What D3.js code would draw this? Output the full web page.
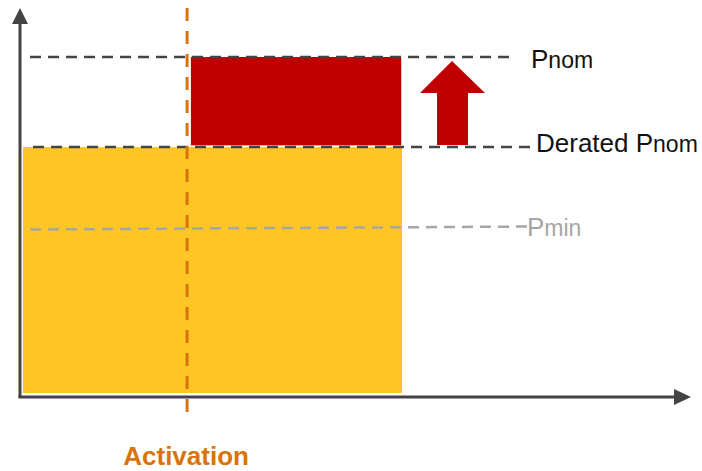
<!DOCTYPE html>
<html>
<head>
<meta charset="utf-8">
<script src="https://cdn.jsdelivr.net/npm/d3@7"></script>
<style>
  html, body { margin: 0; padding: 0; background: #fff; }
  svg { display: block; font-family: "Liberation Sans", Arial, sans-serif; }
</style>
</head>
<body>
<svg id="chart" width="702" height="471"></svg>
<script>
// Power levels (relative, Pnom = 100)
const levelNames = ["Pnom", "Derated Pnom", "Pmin"];
const levelValues = [100, 73.2, 49.1];
// Time markers (relative units)
const activationTime = 43.3;
const endTime = 100;
// Blocks: [start, end, bottom, top]
const blockNames = ["derated", "boost"];
const blockStart = [0, 44.3];
const blockEnd = [100, 99.8];
const blockBottom = [0, 73.7];
const blockTop = [73.2, 100];

const svg = d3.select("#chart");

const x = d3.scaleLinear().domain([0, 100]).range([23, 402]);
const y = d3.scaleLinear().domain([0, 100]).range([393, 57]);

const dark = "#444444";

// Blocks
const blockColors = ["#fec527", "#c00000"];
svg.selectAll("rect.block")
  .data(blockNames)
  .enter().append("rect")
  .attr("class", "block")
  .attr("x", (d, i) => x(blockStart[i]))
  .attr("width", (d, i) => x(blockEnd[i]) - x(blockStart[i]))
  .attr("y", (d, i) => y(blockTop[i]))
  .attr("height", (d, i) => y(blockBottom[i]) - y(blockTop[i]))
  .attr("fill", (d, i) => blockColors[i]);

// Level lines
const lineStart = [30, 33, 30];
const lineEnd = [512, 530, 527];
const lineColors = [dark, dark, "#a6a6a6"];
const lineSlant = [0, 0, -3];
levelNames.forEach((name, i) => {
  svg.append("line")
    .attr("x1", lineStart[i]).attr("x2", lineEnd[i])
    .attr("y1", y(levelValues[i]) + (i === 2 ? 1.5 : 0))
    .attr("y2", y(levelValues[i]) + (i === 2 ? 1.5 + lineSlant[i] : 0))
    .attr("stroke", lineColors[i])
    .attr("stroke-width", 2.5)
    .attr("stroke-dasharray", "11,7");
});

// Level labels, the subscript part slightly smaller
const labelX = [531, 536, 527];
const labelDy = [11, 5, 8];
const labelColors = ["#111111", "#111111", "#a6a6a6"];
const labelMain = ["P", "Derated P", "P"];
const labelSub = ["nom", "nom", "min"];
levelNames.forEach((name, i) => {
  const t = svg.append("text")
    .attr("x", labelX[i])
    .attr("y", y(levelValues[i]) + labelDy[i])
    .attr("fill", labelColors[i])
    .attr("font-size", 26);
  t.append("tspan").text(labelMain[i]);
  t.append("tspan").attr("font-size", 23).text(labelSub[i]);
});

// Upward arrow between the two upper levels
const ax = 452;
const arrowTop = y(levelValues[0]) + 4;
const arrowBottom = y(levelValues[1]) - 2;
const headBase = arrowTop + 32;
svg.append("path")
  .attr("d", `M${ax},${arrowTop} L${ax + 33},${headBase} L${ax + 16},${headBase} L${ax + 16},${arrowBottom} L${ax - 15},${arrowBottom} L${ax - 15},${headBase} L${ax - 32},${headBase} Z`)
  .attr("fill", "#c00000");

// Activation line
const actX = x(activationTime);
svg.append("line")
  .attr("x1", actX).attr("x2", actX)
  .attr("y1", 8).attr("y2", 418)
  .attr("stroke", "#d9730d")
  .attr("stroke-width", 3)
  .attr("stroke-dasharray", "13,10");

svg.append("text")
  .attr("x", actX - 1)
  .attr("y", 465)
  .attr("text-anchor", "middle")
  .attr("fill", "#d9730d")
  .attr("font-weight", "bold")
  .attr("font-size", 26)
  .text("Activation");

// Axes with arrowheads
const axisY = 397, axisX = 20;
svg.append("line")
  .attr("x1", axisX).attr("x2", axisX)
  .attr("y1", axisY + 1).attr("y2", 22)
  .attr("stroke", dark).attr("stroke-width", 3);
svg.append("path")
  .attr("d", `M${axisX},8 L${axisX + 8},24 L${axisX - 8},24 Z`)
  .attr("fill", dark);
svg.append("line")
  .attr("x1", axisX - 1.5).attr("x2", 676)
  .attr("y1", axisY).attr("y2", axisY)
  .attr("stroke", dark).attr("stroke-width", 3);
svg.append("path")
  .attr("d", `M691,${axisY} L674,${axisY - 8} L674,${axisY + 8} Z`)
  .attr("fill", dark);
</script>
</body>
</html>
